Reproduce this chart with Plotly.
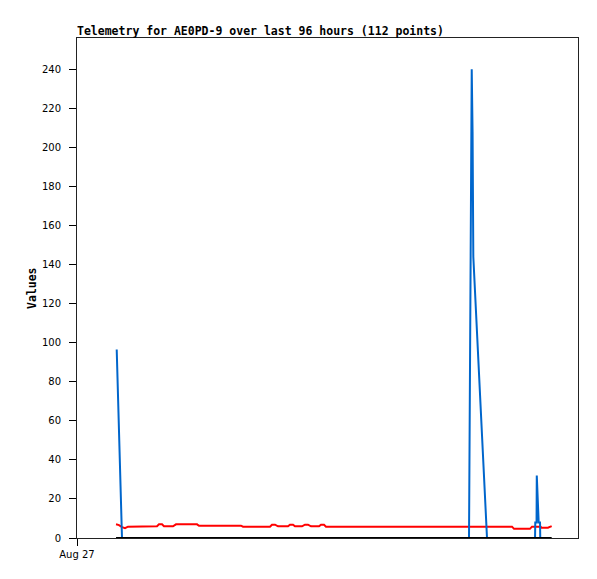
import plotly.graph_objects as go

# ---- data ----
blue_times = ["2024-08-27 08:45", "2024-08-27 09:55", "2024-08-30 14:23", "2024-08-30 14:59",
              "2024-08-30 15:10", "2024-08-30 15:20", "2024-08-30 18:21", "2024-08-31 04:56",
              "2024-08-31 04:59", "2024-08-31 05:16", "2024-08-31 05:19", "2024-08-31 05:44",
              "2024-08-31 06:02", "2024-08-31 06:05"]
blue_values = [96.5, 0, 0, 240, 208, 144, 0, 0, 8, 8, 32, 8, 8, 0]

red_times = ["2024-08-27 08:36", "2024-08-27 09:15", "2024-08-27 09:55", "2024-08-27 10:35",
             "2024-08-27 11:14", "2024-08-27 16:05", "2024-08-27 17:38", "2024-08-27 18:04",
             "2024-08-27 18:44", "2024-08-27 19:10", "2024-08-27 21:09", "2024-08-27 21:49",
             "2024-08-28 02:27", "2024-08-28 02:53", "2024-08-28 12:08", "2024-08-28 12:35",
             "2024-08-28 18:32", "2024-08-28 18:58", "2024-08-28 19:38", "2024-08-28 20:18",
             "2024-08-28 22:30", "2024-08-28 22:56", "2024-08-28 23:36", "2024-08-29 00:02",
             "2024-08-29 01:35", "2024-08-29 02:14", "2024-08-29 02:54", "2024-08-29 03:34",
             "2024-08-29 05:20", "2024-08-29 05:46", "2024-08-29 06:26", "2024-08-29 06:52",
             "2024-08-30 23:52", "2024-08-31 00:18", "2024-08-31 03:49", "2024-08-31 04:16",
             "2024-08-31 06:10", "2024-08-31 06:20", "2024-08-31 07:47", "2024-08-31 08:36"]
red_values = [7.0, 6.6, 5.6, 5.0,
              5.8, 6.0, 6.0, 7.0,
              7.0, 6.0, 6.0, 7.0,
              7.0, 6.3, 6.3, 5.8,
              5.8, 6.8, 6.8, 6.0,
              6.0, 6.8, 6.8, 6.0,
              6.0, 6.8, 6.8, 6.0,
              6.0, 6.8, 6.8, 5.8,
              5.8, 4.7, 4.7, 5.8,
              5.8, 5.3, 5.3, 6.1]

black_times = ["2024-08-27 08:36", "2024-08-28 08:36", "2024-08-29 08:36",
               "2024-08-30 08:36", "2024-08-31 08:36"]
black_values = [0, 0, 0, 0, 0]

y_ticks = [0, 20, 40, 60, 80, 100, 120, 140, 160, 180, 200, 220, 240]
x_tick_vals = ["2024-08-27 00:00"]
x_tick_text = ["Aug 27"]
x_range = ["2024-08-27 00:00", "2024-08-31 14:24"]
y_range = [0, 256]

title_text = "Telemetry for AE0PD-9 over last 96 hours (112 points)"

# ---- figure ----
fig = go.Figure()
fig.add_trace(go.Scatter(x=red_times, y=red_values, mode="lines",
                         line=dict(color="#FF0000", width=2), showlegend=False))
fig.add_trace(go.Scatter(x=blue_times, y=blue_values, mode="lines",
                         line=dict(color="#0066CC", width=2), showlegend=False))
fig.add_trace(go.Scatter(x=black_times, y=black_values, mode="lines",
                         line=dict(color="#000000", width=2), showlegend=False))

W, H = 589, 571
tick_font = dict(family="DejaVu Sans", size=10, color="#000000")
fig.update_layout(
    width=W, height=H,
    margin=dict(l=69, r=19, t=30, b=41),
    paper_bgcolor="white", plot_bgcolor="white",
    title=dict(text="<b>" + title_text + "</b>", x=0, xref="paper", xanchor="left",
               y=1 - 23 / H, yref="container", yanchor="middle",
               font=dict(family="DejaVu Sans Mono", size=11.5, color="#000000")),
    xaxis=dict(type="date", range=x_range, tickvals=x_tick_vals, ticktext=x_tick_text,
               ticks="outside", ticklen=7, tickcolor="#000000", tickfont=tick_font,
               showgrid=False, zeroline=False, showline=True, linecolor="#222222",
               linewidth=1, mirror=True),
    yaxis=dict(range=y_range, tickvals=y_ticks, ticks="outside", ticklen=7,
               tickcolor="#000000", tickfont=tick_font, ticklabelstandoff=6,
               showgrid=False, zeroline=False, showline=True, linecolor="#222222",
               linewidth=1, mirror=True),
    annotations=[dict(text="<b>Values</b>", textangle=-90, xref="paper", yref="paper",
                      x=(32 - 77) / 501, y=0.5, xanchor="center", yanchor="middle",
                      showarrow=False,
                      font=dict(family="DejaVu Sans Mono", size=11.5, color="#000000"))],
)

fig.write_html("out.html")
